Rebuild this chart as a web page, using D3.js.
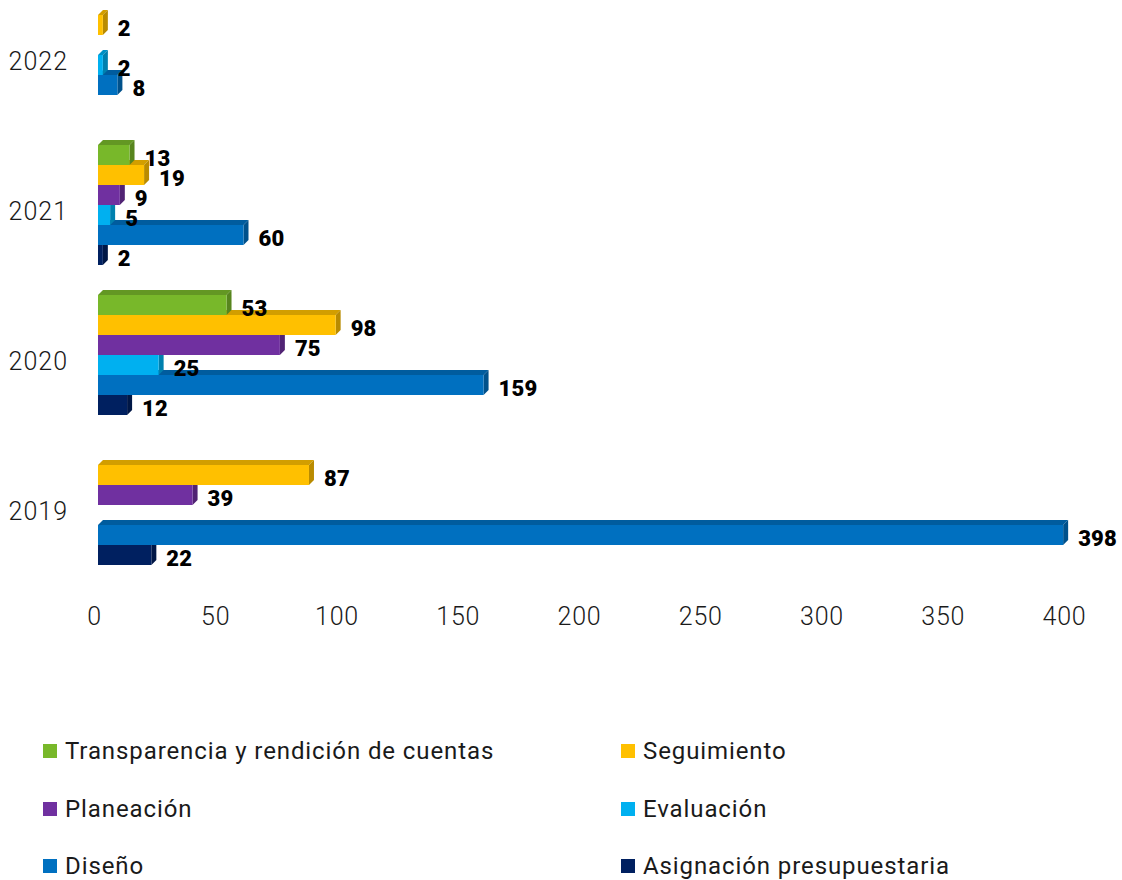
<!DOCTYPE html>
<html>
<head>
<meta charset="utf-8">
<script src="https://cdn.jsdelivr.net/npm/d3@7"></script>
<style>
  html, body { margin: 0; padding: 0; background: #fff; }
  svg { display: block; }
</style>
</head>
<body>
<svg id="chart" width="1122" height="880"></svg>
<script>
// ---- data ----
const years = ["2022", "2021", "2020", "2019"];
const seriesNames = [
  "Transparencia y rendición de cuentas",
  "Seguimiento",
  "Planeación",
  "Evaluación",
  "Diseño",
  "Asignación presupuestaria"
];
const seriesColors = ["#78B82A", "#FFC000", "#7030A0", "#00B0F0", "#0070C0", "#002060"];
// values per series, in the order of `years` (null = no bar)
const transparencia = [null, 13, 53, null];
const seguimiento   = [2, 19, 98, 87];
const planeacion    = [null, 9, 75, 39];
const evaluacion    = [2, 5, 25, null];
const diseno        = [8, 60, 159, 398];
const asignacion    = [null, 2, 12, 22];
const tickValues = [0, 50, 100, 150, 200, 250, 300, 350, 400];

const seriesValues = [transparencia, seguimiento, planeacion, evaluacion, diseno, asignacion];

// ---- layout ----
const svg = d3.select("#chart");
const x = d3.scaleLinear().domain([0, 400]).range([94, 1064]);
const y = d3.scaleBand().domain(years).range([-20, 580]).paddingInner(0.2).paddingOuter(0.1);
const ys = d3.scaleBand().domain(seriesNames).range([0, y.bandwidth()]).padding(0);
const barShift = 4;  // bars start slightly right of the axis zero
const dx = 5, dy = -5; // 3D depth

const records = [];
years.forEach((yr, yi) => {
  seriesNames.forEach((s, si) => {
    const v = seriesValues[si][yi];
    if (v !== null && v !== undefined) records.push({ year: yr, series: s, si, value: v });
  });
});

const barsG = svg.append("g");
// draw lower bars first so upper bars cover their top faces
const drawOrder = records.slice().sort((a, b) => {
  const ya = y(a.year) + ys(a.series), yb = y(b.year) + ys(b.series);
  return yb - ya;
});

drawOrder.forEach(d => {
  const x0 = x(0) + barShift;
  const x1 = x(d.value) + barShift;
  const y0 = y(d.year) + ys(d.series);
  const h = ys.bandwidth();
  const c = d3.color(seriesColors[d.si]);
  const g = barsG.append("g");
  // top face
  g.append("path")
    .attr("d", `M${x0},${y0} L${x0 + dx},${y0 + dy} L${x1 + dx},${y0 + dy} L${x1},${y0} Z`)
    .attr("fill", c.darker(0.55));
  // side face
  g.append("path")
    .attr("d", `M${x1},${y0} L${x1 + dx},${y0 + dy} L${x1 + dx},${y0 + h + dy} L${x1},${y0 + h} Z`)
    .attr("fill", c.darker(0.9));
  // front face
  g.append("rect")
    .attr("x", x0).attr("y", y0)
    .attr("width", Math.max(0, x1 - x0)).attr("height", h)
    .attr("fill", c.formatHex());
});

// value labels
svg.append("g").selectAll("text").data(records).join("text")
  .attr("x", d => x(d.value) + barShift + dx + 10)
  .attr("y", d => y(d.year) + ys(d.series) + ys.bandwidth() / 2 + 3)
  .attr("dy", "0.35em")
  .attr("font-family", "Roboto, 'DejaVu Sans', sans-serif")
  .attr("font-weight", 900)
  .attr("font-size", 22)
  .attr("letter-spacing", 0.2)
  .attr("fill", "#000")
  .text(d => d.value);

// x axis tick labels
const xAxis = d3.axisBottom(x).tickValues(tickValues).tickSize(0).tickPadding(0);
const xg = svg.append("g").attr("transform", "translate(0,607)").call(xAxis);
xg.select(".domain").remove();
xg.selectAll("text")
  .attr("font-family", "Roboto, sans-serif")
  .attr("font-weight", 300)
  .attr("font-size", 25)
  .attr("letter-spacing", 0.8)
  .attr("fill", "#1a1a1a");

// y axis year labels
const yAxis = d3.axisLeft(y).tickSize(0).tickPadding(0);
const yg = svg.append("g").attr("transform", "translate(68,7)").call(yAxis);
yg.select(".domain").remove();
yg.selectAll("text")
  .attr("font-family", "Roboto, sans-serif")
  .attr("font-weight", 300)
  .attr("font-size", 25)
  .attr("letter-spacing", 1)
  .attr("fill", "#1a1a1a");

// legend
const legendCols = [43, 621];
const legendRows = [751, 809, 866];
const lg = svg.append("g");
seriesNames.forEach((s, i) => {
  const cx = legendCols[i % 2];
  const cy = legendRows[Math.floor(i / 2)];
  lg.append("rect").attr("x", cx).attr("y", cy - 7).attr("width", 14).attr("height", 14)
    .attr("fill", seriesColors[i]);
  lg.append("text").attr("x", cx + 22).attr("y", cy).attr("dy", "0.35em")
    .attr("font-family", "Roboto, sans-serif")
    .attr("font-weight", 400)
    .attr("font-size", 24)
    .attr("letter-spacing", 0.9)
    .attr("fill", "#1a1a1a")
    .text(s);
});
</script>
</body>
</html>
